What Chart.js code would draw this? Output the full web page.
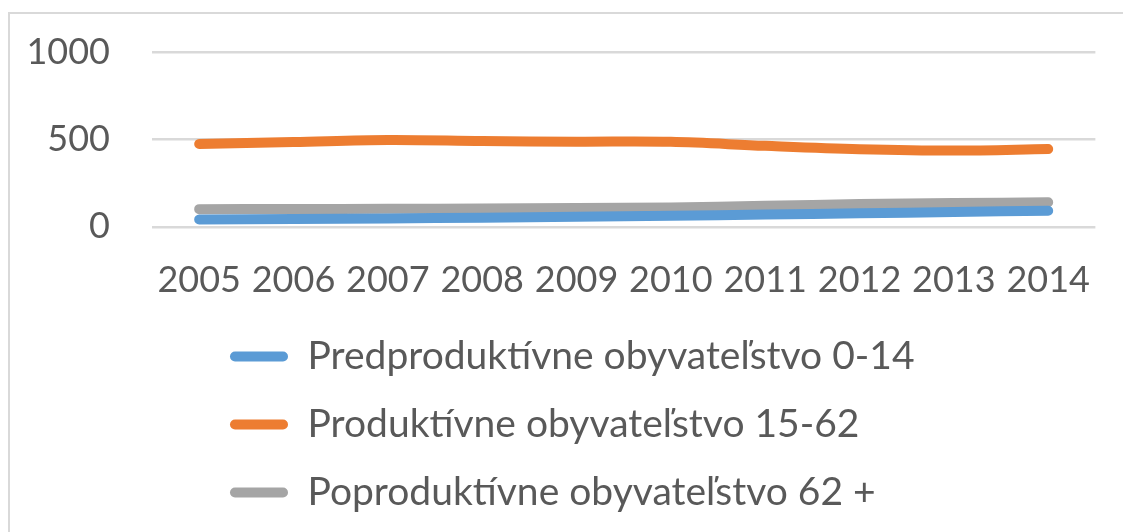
<!DOCTYPE html>
<html>
<head>
<meta charset="utf-8">
<script src="https://cdn.jsdelivr.net/npm/chart.js@4"></script>
<style>
  html, body { margin: 0; padding: 0; background: #fff; }
  #wrap { width: 1123px; height: 532px; }
</style>
</head>
<body>
<div id="wrap"><canvas id="myChart" width="1123" height="532"></canvas></div>
<script>
// Data
const years = ['2005', '2006', '2007', '2008', '2009', '2010', '2011', '2012', '2013', '2014'];
const seriesNames = [
	'Predproduktívne obyvateľstvo 0-14',
	'Produktívne obyvateľstvo 15-62',
	'Poproduktívne obyvateľstvo 62 +'
];
const preProductive = [42, 45, 48, 52, 57, 63, 70, 77, 85, 92];
const productive = [474, 485, 497, 491, 487, 486, 463, 444, 436, 445];
const postProductive = [101, 102, 103, 105, 108, 111, 120, 130, 136, 140];
const yTicks = [0, 500, 1000];

const colors = ['#5B9BD5', '#ED7D31', '#A5A5A5'];
const textColor = '#595959';
const gridColor = '#D9D9D9';

Chart.defaults.font.family = 'Lato';

// Light frame around the chart, like the original
const framePlugin = {
	id: 'frame',
	beforeDraw(chart) {
		const ctx = chart.ctx;
		ctx.save();
		ctx.strokeStyle = gridColor;
		ctx.lineWidth = 2;
		ctx.strokeRect(9, 13, chart.width + 20, chart.height + 20);
		ctx.restore();
	}
};

// Push the legend rows to the right so they start under 2006
const legendShift = {
	id: 'legendShift',
	afterLayout(chart) {
		chart.legend.left += 201;
	}
};

function makeSet(label, data, color) {
	return {
		label: label,
		data: data,
		borderColor: color,
		backgroundColor: color,
		borderWidth: 10,
		borderCapStyle: 'round',
		borderJoinStyle: 'round',
		pointRadius: 0,
		pointHoverRadius: 0,
		tension: 0.35,
		fill: false
	};
}

const canvas = document.getElementById('myChart');
const myChart = new Chart(canvas, {
	type: 'line',
	data: {
		labels: years,
		datasets: [
			makeSet(seriesNames[0], preProductive, colors[0]),
			makeSet(seriesNames[1], productive, colors[1]),
			makeSet(seriesNames[2], postProductive, colors[2])
		]
	},
	options: {
		responsive: false,
		animation: false,
		layout: {
			padding: { top: 52, right: 21, bottom: 10, left: 0 }
		},
		scales: {
			x: {
				offset: true,
				afterFit(scale) {
					scale.height -= 26;
				},
				grid: { display: false, drawTicks: false },
				border: { display: false },
				ticks: {
					color: textColor,
					font: { size: 36 },
					padding: 32,
					maxRotation: 0,
					autoSkip: false
				}
			},
			y: {
				min: 0,
				max: 1000,
				afterBuildTicks(scale) {
					scale.ticks = yTicks.map(v => ({ value: v }));
				},
				afterFit(scale) {
					scale.width = 152;
					scale.paddingTop = 0;
					scale.paddingBottom = 0;
				},
				grid: { color: gridColor, lineWidth: 2.5, drawTicks: false },
				border: { display: false },
				ticks: {
					color: textColor,
					font: { size: 36 },
					padding: 42,
					callback: v => String(v)
				}
			}
		},
		plugins: {
			legend: {
				position: 'bottom',
				align: 'start',
				labels: {
					boxWidth: 58,
					boxHeight: 10,
					useBorderRadius: true,
					borderRadius: 5,
					color: textColor,
					font: { size: 39 },
					padding: 29,
					generateLabels(chart) {
						const items = Chart.defaults.plugins.legend.labels.generateLabels(chart);
						items.forEach(it => { it.lineWidth = 0; });
						return items;
					}
				}
			},
			tooltip: { enabled: false }
		}
	},
	plugins: [framePlugin, legendShift]
});
</script>
</body>
</html>
